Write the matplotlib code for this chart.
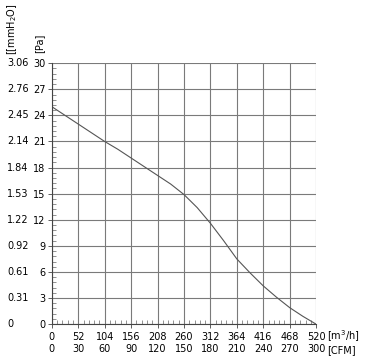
import numpy as np
import matplotlib.pyplot as plt
from matplotlib.ticker import MultipleLocator

# fan curve
flow_m3h = [0, 26, 52, 78, 104, 130, 156, 182, 208, 234, 260, 286, 312,
            338, 364, 390, 416, 442, 468, 494, 520]
pressure_pa = [25.0, 24.0, 23.0, 22.0, 21.0, 20.1, 19.1, 18.1, 17.1, 16.1,
               14.9, 13.4, 11.6, 9.6, 7.5, 5.9, 4.4, 3.1, 1.9, 0.9, 0.0]

pa_ticks = [0, 3, 6, 9, 12, 15, 18, 21, 24, 27, 30]
mmh2o_labels = ['0', '0.31', '0.61', '0.92', '1.22', '1.53', '1.84',
                '2.14', '2.45', '2.76', '3.06']
m3h_ticks = [0, 52, 104, 156, 208, 260, 312, 364, 416, 468, 520]
cfm_labels = ['0', '30', '60', '90', '120', '150', '180', '210', '240',
              '270', '300']

fs = 7
plt.rcParams['font.family'] = 'DejaVu Sans'

fig = plt.figure(figsize=(3.65, 3.57), dpi=100)
ax = fig.add_axes([0.142, 0.092, 0.724, 0.731])

ax.plot(flow_m3h, pressure_pa, color='#555555', lw=0.8)

ax.set_xlim(0, 520)
ax.set_ylim(0, 30)
ax.set_xticks(m3h_ticks)
ax.set_yticks(pa_ticks)
ax.xaxis.set_minor_locator(MultipleLocator(10.4))
ax.yaxis.set_minor_locator(MultipleLocator(0.6))
ax.grid(True, which='major', color='#7a7a7a', lw=0.8)
ax.set_xticklabels([str(v) for v in m3h_ticks], fontsize=fs)
ax.set_yticklabels([str(v) for v in pa_ticks], fontsize=fs)
ax.tick_params(which='major', length=3, width=0.6, pad=1.5, color='#444444')
ax.tick_params(which='minor', direction='in', length=3, width=0.5,
               color='#666666')
ax.tick_params(axis='x', which='major', pad=2.5)
for s in ['top', 'right']:
    ax.spines[s].set_visible(False)
for s in ['left', 'bottom']:
    ax.spines[s].set_color('#444444')
    ax.spines[s].set_linewidth(0.8)

# second y label column (mmH2O)
for v, lab in zip(pa_ticks, mmh2o_labels):
    ax.text(-0.17, v, lab, transform=ax.get_yaxis_transform(),
            ha='left', va='center', fontsize=fs)

# second x label row (CFM)
for v, lab in zip(m3h_ticks, cfm_labels):
    ax.text(v, -0.096, lab, transform=ax.get_xaxis_transform(),
            ha='center', va='center', fontsize=fs)

ax.text(1.04, -0.046, '[m$^3$/h]', transform=ax.transAxes,
        ha='left', va='center', fontsize=fs)
ax.text(1.04, -0.098, '[CFM]', transform=ax.transAxes,
        ha='left', va='center', fontsize=fs)

fig.text(0.033, 0.99, '[[mmH$_2$O]', rotation=90, ha='center', va='top',
         fontsize=fs)
fig.text(0.107, 0.905, '[Pa]', rotation=90, ha='center', va='top',
         fontsize=fs)

fig.savefig('out.png', dpi=100)
